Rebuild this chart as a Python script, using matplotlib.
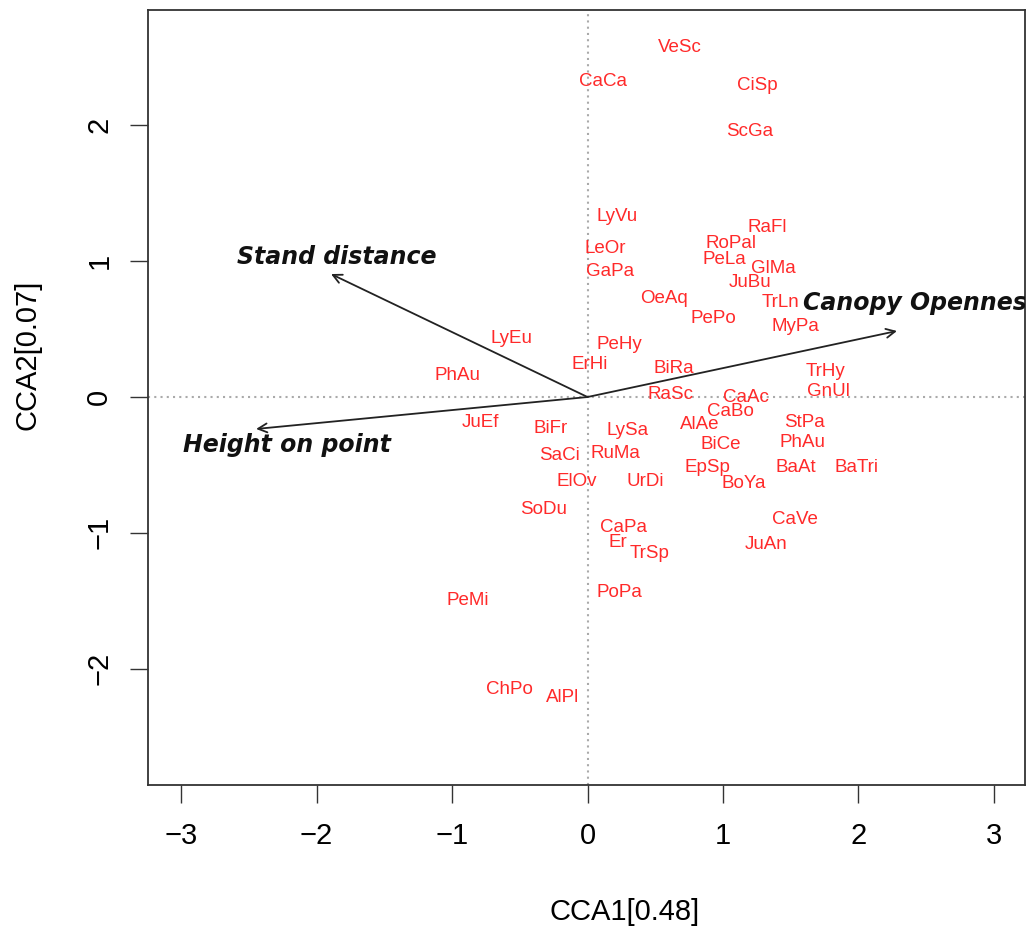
import numpy as np
import matplotlib
matplotlib.use("Agg")
import matplotlib.pyplot as plt

# species scores (CCA1, CCA2)
species = ['VeSc', 'CaCa', 'CiSp', 'ScGa', 'LyVu', 'RaFl', 'RoPal', 'LeOr', 'PeLa', 'GaPa',
           'GlMa', 'JuBu', 'OeAq', 'TrLn', 'PePo', 'MyPa', 'LyEu', 'PeHy', 'ErHi', 'BiRa',
           'TrHy', 'PhAu', 'GnUl', 'RaSc', 'CaAc', 'CaBo', 'JuEf', 'BiFr', 'AlAe', 'StPa',
           'LySa', 'PhAu', 'BiCe', 'SaCi', 'RuMa', 'EpSp', 'BaAt', 'BaTri', 'ElOv', 'UrDi',
           'BoYa', 'SoDu', 'CaVe', 'CaPa', 'Er', 'TrSp', 'JuAn', 'PoPa', 'PeMi', 'ChPo', 'AlPl']
cca1 = [0.683, 0.114, 1.251, 1.199, 0.218, 1.325, 1.059, 0.129, 1.007, 0.166,
        1.369, 1.199, 0.565, 1.421, 0.926, 1.531, -0.565, 0.232, 0.018, 0.638,
        1.753, -0.963, 1.775, 0.609, 1.170, 1.052, -0.793, -0.269, 0.830, 1.598,
        0.292, 1.583, 0.985, -0.210, 0.203, 0.882, 1.539, 1.982, -0.077, 0.424,
        1.155, -0.321, 1.531, 0.262, 0.225, 0.461, 1.317, 0.232, -0.882, -0.579, -0.181]
cca2 = [2.575, 2.325, 2.296, 1.957, 1.332, 1.244, 1.133, 1.096, 1.015, 0.927,
        0.949, 0.846, 0.728, 0.699, 0.581, 0.522, 0.427, 0.390, 0.243, 0.213,
        0.191, 0.155, 0.044, 0.022, 0.0, -0.110, -0.184, -0.228, -0.199, -0.184,
        -0.250, -0.338, -0.353, -0.427, -0.412, -0.515, -0.515, -0.515, -0.618, -0.618,
        -0.640, -0.824, -0.898, -0.957, -1.067, -1.148, -1.082, -1.442, -1.494, -2.149, -2.208]

# environmental vectors
env_names = ['Canopy Openness', 'Stand distance', 'Height on point']
env_x = [2.284, -1.893, -2.446]
env_y = [0.486, 0.905, -0.235]
env_lab_x = [1.590, -1.849, -2.218]
env_lab_y = [0.692, 1.030, -0.353]
env_ha = ['left', 'center', 'center']

fig = plt.figure(figsize=(10.33, 9.26), dpi=100)
ax = fig.add_axes([148 / 1033, 141 / 926, 877 / 1033, 775 / 926])

ax.axhline(0, color='#aaaaaa', lw=1.5, ls=(0, (1, 2)), zorder=1)
ax.axvline(0, color='#aaaaaa', lw=1.5, ls=(0, (1, 2)), zorder=1)

for name, x, y in zip(species, cca1, cca2):
    ax.text(x, y, name, color='#ff2a2a', fontsize=13.5, family='Liberation Sans',
            ha='center', va='center', zorder=3)

for name, x, y, lx, ly, ha in zip(env_names, env_x, env_y, env_lab_x, env_lab_y, env_ha):
    ax.annotate('', xy=(x, y), xytext=(0, 0),
                arrowprops=dict(arrowstyle='->', lw=1.3, color='#222222',
                                shrinkA=0, shrinkB=0, mutation_scale=16))
    ax.text(lx, ly, name, fontsize=17, fontweight='bold', fontstyle='italic',
            family='DejaVu Sans', ha=ha, va='center', color='#111111', clip_on=True)

ax.set_xlim(-3.244, 3.229)
ax.set_ylim(-2.855, 2.848)
ax.set_xticks([-3, -2, -1, 0, 1, 2, 3])
ax.set_yticks([-2, -1, 0, 1, 2])
ax.set_xticklabels(['\u22123', '\u22122', '\u22121', '0', '1', '2', '3'])
ax.set_yticklabels(['\u22122', '\u22121', '0', '1', '2'], rotation=90, va='center')

for s in ax.spines.values():
    s.set_color('#333333')
    s.set_linewidth(1.3)

ax.tick_params(axis='both', length=13, width=1, color='#333333', labelsize=21)
ax.tick_params(axis='x', pad=14)
ax.tick_params(axis='y', pad=12)
for lab in ax.get_xticklabels() + ax.get_yticklabels():
    lab.set_family('Liberation Sans')

ax.set_xlabel('CCA1[0.48]', fontsize=21, family='Liberation Sans')
ax.set_ylabel('CCA2[0.07]', fontsize=21, family='Liberation Sans')
ax.xaxis.set_label_coords(0.544, -0.146)
ax.yaxis.set_label_coords(-0.121, 0.555)

fig.savefig('out.png', dpi=100)
